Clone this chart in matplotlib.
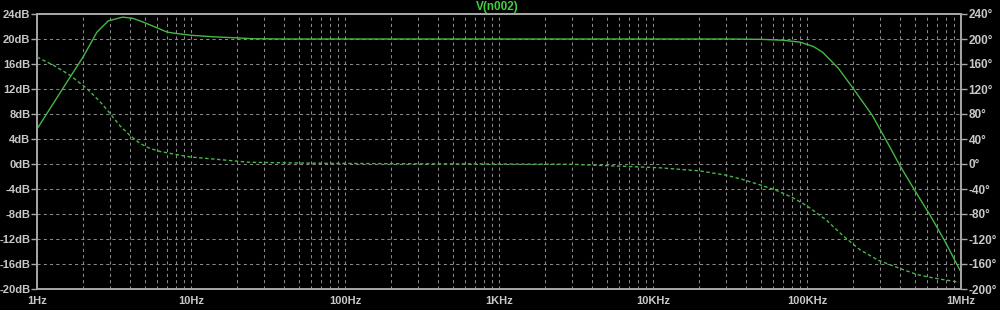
import matplotlib
matplotlib.use("Agg")
import matplotlib.pyplot as plt
from matplotlib.ticker import FixedLocator, NullFormatter

# ---- data ----
mag_freq = [1, 1.3, 1.64, 2.0, 2.45, 2.9, 3.6, 4.2, 4.9, 6, 7, 8.5, 10, 14, 19, 25, 40,
            100, 1e3, 1e4, 3e4, 5e4, 7e4, 9e4, 1.1e5, 1.26e5, 1.6e5, 1.98e5, 2.65e5,
            3.3e5, 4e5, 5e5, 6.3e5, 7.8e5, 1e6]
mag_db = [5.6, 10.0, 13.9, 17.2, 21.1, 22.9, 23.5, 23.3, 22.7, 21.8, 21.1, 20.8, 20.6,
          20.35, 20.2, 20.05, 20.0, 20.0, 20.0, 20.0, 20.0, 19.95, 19.8, 19.5, 18.8,
          17.9, 15.3, 12.2, 7.8, 3.6, -0.2, -4.2, -8.2, -12.2, -17.3]

ph_freq = [1, 1.28, 1.64, 2.10, 2.56, 2.98, 3.46, 4.0, 4.66, 5.4, 6.3, 8.5, 10.1, 14.7, 24,
           80, 300, 1e3, 3e3, 7e3, 1.1e4, 2.0e4, 3.0e4, 3.85e4, 4.9e4, 6.3e4, 8.1e4,
           1.0e5, 1.34e5, 1.7e5, 2.2e5, 2.9e5, 4.0e5, 5.2e5, 6.5e5, 9.6e5]
ph_deg = [171, 158, 142, 121, 100, 81, 61, 46, 33, 25, 20, 14, 11, 7.5, 2.7,
          1, 0.3, 0, -0.5, -4, -6, -11, -18, -25, -33, -42, -54,
          -67, -90, -114, -137, -154, -167, -177, -182, -189]

x_ticks = [1, 10, 100, 1e3, 1e4, 1e5, 1e6]
x_labels = ["1Hz", "10Hz", "100Hz", "1KHz", "10KHz", "100KHz", "1MHz"]
db_ticks = list(range(-20, 25, 4))
deg_ticks = list(range(-200, 241, 40))
title = "V(n002)"

# ---- styling ----
bg = "black"
green = "#45b845"
grid_c = "#8a8a8a"
spine_c = "#a8a8a8"
txt_c = "#c8c8c8"
lab_font = "Liberation Sans"

fig = plt.figure(figsize=(10, 3.1), dpi=100, facecolor=bg)
ax = fig.add_axes([0.037, 1 - 289 / 310, 0.924, (289 - 14) / 310])
ax.set_facecolor(bg)
ax.set_xscale("log")
ax.set_xlim(1, 1e6)
ax.set_ylim(-20, 24)

minor = [m * 10 ** d for d in range(6) for m in range(2, 10)]
ax.xaxis.set_major_locator(FixedLocator(x_ticks))
ax.xaxis.set_minor_locator(FixedLocator(minor))
ax.xaxis.set_minor_formatter(NullFormatter())
ax.set_xticks(x_ticks)
ax.set_xticklabels(x_labels)
ax.set_yticks(db_ticks)
ax.set_yticklabels([f"{v}dB" for v in db_ticks])

ax.grid(True, which="both", axis="x", color=grid_c, linestyle=(0, (3, 3)), linewidth=0.75)
ax.grid(True, which="major", axis="y", color=grid_c, linestyle=(0, (3, 3)), linewidth=0.75)

for s in ax.spines.values():
    s.set_color(spine_c)
    s.set_linewidth(1.2)

ax.tick_params(axis="x", which="both", length=0, colors=txt_c, pad=5)
ax.tick_params(axis="y", length=4, width=1, colors=spine_c, labelcolor=txt_c, pad=0.8)
for lab in ax.get_xticklabels() + ax.get_yticklabels():
    lab.set_fontfamily(lab_font)
    lab.set_fontsize(8)
    lab.set_fontweight("bold")

ax.plot(mag_freq, mag_db, color=green, linewidth=1.0, zorder=3)

ax2 = ax.twinx()
ax2.set_ylim(-200, 240)
ax2.set_yticks(deg_ticks)
ax2.set_yticklabels([f"{v}°" for v in deg_ticks])
ax2.tick_params(axis="y", length=4, width=1, colors=spine_c, labelcolor=txt_c, pad=1.5)
for lab in ax2.get_yticklabels():
    lab.set_fontfamily(lab_font)
    lab.set_fontsize(8.5)
    lab.set_fontweight("bold")
for s in ax2.spines.values():
    s.set_color(spine_c)
    s.set_linewidth(1.2)
ax2.plot(ph_freq, ph_deg, color=green, linewidth=1.0, linestyle=(0, (2.5, 1.8)), zorder=3)

fig.text(0.497, 1 - 7 / 310, title, color="#3fd03f", ha="center", va="center",
         fontsize=8.5, fontweight="bold", family=lab_font)

fig.savefig("out.png", dpi=100, facecolor=bg)
